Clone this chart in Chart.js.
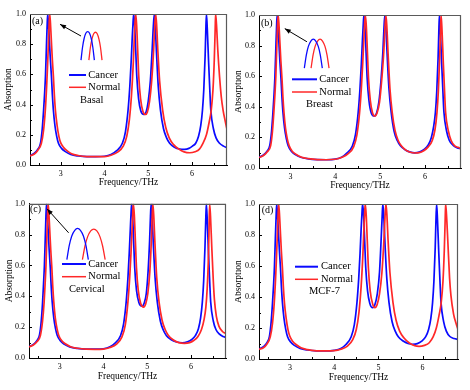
<!DOCTYPE html>
<html>
<head>
<meta charset="utf-8">
<script src="https://cdn.jsdelivr.net/npm/chart.js@4.4.0/dist/chart.umd.min.js"></script>
<style>
body{margin:0;background:#fff;}
#wrap{position:relative;width:470px;height:390px;overflow:hidden;}
.panel{position:absolute;width:235px;height:195px;}
</style>
</head>
<body>
<div id="wrap">
<div class="panel" style="left:0;top:0"><canvas id="ca" width="235" height="195"></canvas></div>
<div class="panel" style="left:235px;top:0"><canvas id="cb" width="235" height="195"></canvas></div>
<div class="panel" style="left:0;top:195px"><canvas id="cc" width="235" height="195"></canvas></div>
<div class="panel" style="left:235px;top:195px"><canvas id="cd" width="235" height="195"></canvas></div>
</div>
<script>
// axis ticks
const xTicks=[3,4,5,6];
const yTicks=[0,0.2,0.4,0.6,0.8,1.0];
const seriesNames=["Cancer","Normal"];

// (a) Basal
const aCancerX=[2.30,2.40,2.48,2.54,2.58,2.61,2.635,2.655,2.675,2.69,
2.704,2.72,2.74,2.765,2.79,2.81,2.834,2.87,2.91,2.95,
3.02,3.10,3.23,3.40,3.60,3.80,4.00,4.15,4.28,4.41,
4.48,4.54,4.58,4.61,4.635,4.655,4.669,4.69,4.715,4.74,
4.78,4.83,4.90,4.95,5.00,5.05,5.09,5.118,5.141,5.16,
5.19,5.23,5.28,5.35,5.42,5.49,5.60,5.72,5.83,5.93,
6.01,6.085,6.15,6.20,6.24,6.27,6.30,6.315,6.33,6.35,
6.38,6.41,6.43,6.49,6.55,6.63,6.72,6.80];
const aCancerY=[0.062,0.078,0.105,0.144,0.24,0.36,0.48,0.60,0.78,0.91,
1.0,0.95,0.84,0.70,0.585,0.47,0.364,0.26,0.19,0.144,
0.11,0.09,0.07,0.06,0.055,0.055,0.058,0.07,0.095,0.144,
0.22,0.364,0.52,0.68,0.84,0.95,1.0,0.93,0.76,0.585,
0.44,0.36,0.335,0.35,0.42,0.56,0.76,0.92,1.0,0.93,
0.74,0.52,0.364,0.24,0.18,0.144,0.118,0.106,0.104,0.11,
0.125,0.144,0.19,0.26,0.364,0.50,0.72,0.88,1.0,0.90,
0.68,0.48,0.364,0.24,0.18,0.144,0.125,0.115];
const aNormalX=[2.30,2.40,2.48,2.56,2.61,2.65,2.68,2.70,2.72,2.735,
2.75,2.765,2.785,2.81,2.835,2.855,2.88,2.92,2.96,3.00,
3.07,3.15,3.25,3.40,3.60,3.80,4.00,4.15,4.30,4.43,
4.51,4.57,4.62,4.66,4.685,4.70,4.714,4.735,4.76,4.785,
4.825,4.88,4.94,4.98,5.03,5.08,5.12,5.15,5.17,5.19,
5.22,5.26,5.33,5.40,5.48,5.58,5.70,5.82,5.95,6.07,
6.17,6.25,6.33,6.39,6.44,6.48,6.51,6.53,6.54,6.56,
6.59,6.63,6.67,6.71,6.76,6.80];
const aNormalY=[0.060,0.073,0.098,0.144,0.23,0.364,0.52,0.65,0.80,0.92,
1.0,0.95,0.84,0.70,0.585,0.47,0.364,0.26,0.19,0.148,
0.115,0.094,0.075,0.063,0.056,0.055,0.056,0.065,0.085,0.125,
0.19,0.30,0.47,0.68,0.86,0.95,1.0,0.93,0.76,0.585,
0.44,0.355,0.335,0.35,0.42,0.56,0.74,0.92,1.0,0.94,
0.76,0.56,0.364,0.25,0.18,0.135,0.105,0.087,0.081,0.088,
0.105,0.144,0.20,0.28,0.364,0.50,0.70,0.90,1.0,0.93,
0.76,0.585,0.45,0.364,0.29,0.235];

// (b) Breast
const bCancerX=[2.30,2.40,2.48,2.54,2.58,2.61,2.635,2.655,2.675,2.69,
2.704,2.72,2.74,2.765,2.79,2.81,2.834,2.87,2.91,2.95,
3.02,3.10,3.23,3.40,3.60,3.80,4.00,4.15,4.25,4.38,
4.45,4.51,4.55,4.58,4.605,4.625,4.637,4.66,4.685,4.71,
4.75,4.80,4.867,4.92,4.97,5.02,5.06,5.085,5.104,5.125,
5.155,5.195,5.245,5.31,5.38,5.45,5.56,5.67,5.77,5.87,
5.97,6.07,6.14,6.19,6.23,6.26,6.29,6.305,6.319,6.34,
6.37,6.40,6.42,6.48,6.54,6.62,6.71,6.80];
const bCancerY=[0.07,0.085,0.11,0.148,0.24,0.36,0.48,0.60,0.78,0.91,
1.0,0.95,0.84,0.70,0.585,0.47,0.364,0.26,0.19,0.145,
0.11,0.09,0.07,0.06,0.055,0.054,0.058,0.072,0.095,0.144,
0.22,0.364,0.52,0.68,0.84,0.95,1.0,0.93,0.76,0.585,
0.44,0.36,0.34,0.36,0.43,0.58,0.76,0.92,1.0,0.93,
0.74,0.52,0.364,0.24,0.18,0.145,0.118,0.104,0.099,0.104,
0.12,0.15,0.20,0.27,0.364,0.50,0.72,0.88,1.0,0.90,
0.68,0.48,0.364,0.24,0.18,0.15,0.133,0.125];
const bNormalX=[2.30,2.40,2.48,2.56,2.60,2.63,2.655,2.675,2.695,2.71,
2.726,2.742,2.762,2.787,2.812,2.832,2.856,2.89,2.93,2.97,
3.04,3.12,3.25,3.40,3.60,3.80,4.00,4.15,4.28,4.41,
4.48,4.54,4.58,4.61,4.635,4.655,4.667,4.69,4.715,4.74,
4.78,4.83,4.88,4.93,4.985,5.035,5.08,5.107,5.126,5.147,
5.177,5.217,5.267,5.33,5.40,5.47,5.57,5.67,5.77,5.87,
5.97,6.07,6.16,6.22,6.265,6.295,6.325,6.342,6.356,6.377,
6.407,6.437,6.457,6.52,6.58,6.66,6.73,6.80];
const bNormalY=[0.068,0.082,0.105,0.146,0.24,0.36,0.48,0.60,0.78,0.91,
1.0,0.95,0.84,0.70,0.585,0.47,0.364,0.26,0.19,0.146,
0.11,0.09,0.07,0.061,0.055,0.054,0.057,0.07,0.092,0.14,
0.215,0.36,0.52,0.68,0.84,0.95,1.0,0.93,0.76,0.585,
0.44,0.36,0.34,0.36,0.43,0.58,0.76,0.92,1.0,0.93,
0.74,0.52,0.364,0.245,0.18,0.145,0.117,0.103,0.098,0.10,
0.113,0.138,0.18,0.25,0.364,0.50,0.72,0.88,1.0,0.90,
0.68,0.48,0.364,0.24,0.18,0.145,0.135,0.127];

// (c) Cervical
const cCancerX=[2.30,2.40,2.48,2.54,2.58,2.61,2.632,2.652,2.672,2.686,
2.70,2.716,2.736,2.761,2.786,2.806,2.83,2.866,2.906,2.946,
3.02,3.10,3.23,3.40,3.60,3.80,4.00,4.15,4.26,4.39,
4.46,4.52,4.56,4.59,4.615,4.633,4.645,4.666,4.69,4.715,
4.755,4.81,4.88,4.93,4.98,5.02,5.055,5.075,5.09,5.11,
5.14,5.18,5.23,5.30,5.37,5.44,5.55,5.67,5.80,5.92,
6.02,6.10,6.17,6.22,6.26,6.29,6.32,6.336,6.351,6.371,
6.40,6.43,6.45,6.51,6.57,6.65,6.73,6.80];
const cCancerY=[0.074,0.088,0.112,0.15,0.24,0.36,0.48,0.60,0.78,0.91,
1.0,0.95,0.84,0.70,0.585,0.47,0.364,0.26,0.19,0.146,
0.11,0.09,0.072,0.062,0.057,0.057,0.06,0.073,0.095,0.144,
0.22,0.364,0.52,0.68,0.84,0.95,1.0,0.93,0.76,0.585,
0.44,0.36,0.336,0.355,0.42,0.56,0.76,0.92,1.0,0.93,
0.74,0.52,0.364,0.24,0.18,0.145,0.118,0.104,0.099,0.105,
0.12,0.145,0.19,0.26,0.364,0.50,0.72,0.88,1.0,0.90,
0.68,0.48,0.364,0.24,0.185,0.155,0.14,0.134];
const cNormalX=[2.30,2.40,2.48,2.56,2.61,2.645,2.668,2.688,2.708,2.722,
2.736,2.752,2.772,2.797,2.822,2.842,2.866,2.90,2.94,2.98,
3.05,3.13,3.25,3.40,3.60,3.80,4.00,4.15,4.30,4.42,
4.50,4.56,4.60,4.63,4.655,4.671,4.683,4.705,4.73,4.755,
4.795,4.85,4.917,4.965,5.015,5.06,5.095,5.114,5.128,5.148,
5.178,5.218,5.27,5.34,5.41,5.48,5.59,5.72,5.85,5.97,
6.07,6.16,6.24,6.30,6.34,6.37,6.395,6.41,6.426,6.446,
6.475,6.51,6.535,6.58,6.64,6.72,6.80];
const cNormalY=[0.072,0.084,0.105,0.146,0.24,0.36,0.48,0.60,0.78,0.91,
1.0,0.95,0.84,0.70,0.585,0.47,0.364,0.26,0.19,0.146,
0.112,0.092,0.073,0.063,0.057,0.056,0.058,0.068,0.09,0.135,
0.215,0.364,0.52,0.68,0.84,0.95,1.0,0.93,0.76,0.585,
0.44,0.355,0.33,0.35,0.42,0.56,0.76,0.92,1.0,0.93,
0.74,0.52,0.364,0.245,0.185,0.148,0.118,0.10,0.095,0.10,
0.115,0.14,0.185,0.25,0.33,0.45,0.62,0.80,1.0,0.92,
0.72,0.50,0.38,0.27,0.205,0.172,0.157];

// (d) MCF-7
const dCancerX=[2.30,2.40,2.48,2.535,2.575,2.605,2.63,2.65,2.67,2.686,
2.70,2.716,2.736,2.761,2.786,2.806,2.83,2.866,2.906,2.946,
3.02,3.10,3.23,3.40,3.60,3.80,4.00,4.15,4.26,4.385,
4.455,4.515,4.555,4.585,4.61,4.63,4.643,4.665,4.69,4.715,
4.755,4.805,4.87,4.92,4.975,5.025,5.06,5.085,5.10,5.12,
5.15,5.19,5.24,5.31,5.38,5.45,5.56,5.67,5.77,5.88,
5.98,6.07,6.135,6.185,6.225,6.255,6.285,6.30,6.316,6.336,
6.366,6.396,6.416,6.476,6.536,6.616,6.71,6.80];
const dCancerY=[0.065,0.08,0.105,0.144,0.24,0.36,0.48,0.60,0.78,0.91,
1.0,0.95,0.84,0.70,0.585,0.47,0.364,0.26,0.19,0.144,
0.108,0.088,0.068,0.058,0.053,0.052,0.056,0.068,0.092,0.144,
0.22,0.364,0.52,0.68,0.84,0.95,1.0,0.93,0.76,0.585,
0.44,0.36,0.331,0.35,0.42,0.56,0.76,0.92,1.0,0.93,
0.74,0.52,0.364,0.24,0.18,0.144,0.116,0.10,0.095,0.099,
0.115,0.144,0.19,0.26,0.364,0.50,0.72,0.88,1.0,0.90,
0.68,0.48,0.364,0.24,0.18,0.145,0.132,0.126];
const dNormalX=[2.30,2.40,2.48,2.555,2.605,2.645,2.675,2.695,2.715,2.73,
2.744,2.76,2.78,2.805,2.83,2.85,2.875,2.915,2.955,2.995,
3.065,3.145,3.25,3.40,3.60,3.80,4.00,4.15,4.30,4.42,
4.50,4.56,4.61,4.65,4.675,4.69,4.703,4.724,4.749,4.774,
4.814,4.87,4.92,4.97,5.025,5.08,5.12,5.15,5.17,5.19,
5.22,5.26,5.33,5.40,5.48,5.58,5.70,5.82,5.92,6.04,
6.15,6.24,6.31,6.37,6.42,6.46,6.49,6.51,6.52,6.54,
6.57,6.61,6.64,6.70,6.75,6.80];
const dNormalY=[0.063,0.073,0.097,0.144,0.23,0.364,0.52,0.65,0.80,0.92,
1.0,0.95,0.84,0.70,0.585,0.47,0.364,0.26,0.19,0.148,
0.113,0.092,0.072,0.06,0.053,0.052,0.054,0.063,0.083,0.125,
0.19,0.30,0.47,0.68,0.86,0.95,1.0,0.93,0.76,0.585,
0.44,0.355,0.331,0.35,0.42,0.56,0.74,0.92,1.0,0.94,
0.76,0.56,0.364,0.25,0.18,0.135,0.103,0.086,0.082,0.088,
0.105,0.144,0.20,0.28,0.364,0.50,0.70,0.90,1.0,0.93,
0.76,0.52,0.41,0.29,0.235,0.19];

// zoomed peak sketches and arrows (data coordinates)
const aInsetCancerX=[3.465,3.50,3.535,3.575,3.618,3.66,3.70,3.735,3.77];
const aInsetCancerY=[0.695,0.78,0.836,0.872,0.883,0.872,0.836,0.78,0.695];
const aInsetNormalX=[3.645,3.68,3.715,3.755,3.795,3.835,3.875,3.91,3.945];
const aInsetNormalY=[0.695,0.78,0.834,0.869,0.879,0.869,0.834,0.78,0.695];
const aArrowX=[2.985,3.465], aArrowY=[0.932,0.854];

const bInsetCancerX=[3.31,3.355,3.40,3.455,3.51,3.565,3.62,3.665,3.71];
const bInsetCancerY=[0.653,0.74,0.795,0.83,0.842,0.83,0.795,0.74,0.653];
const bInsetNormalX=[3.46,3.505,3.55,3.605,3.66,3.715,3.77,3.815,3.86];
const bInsetNormalY=[0.653,0.74,0.795,0.83,0.842,0.83,0.795,0.74,0.653];
const bArrowX=[2.874,3.368], bArrowY=[0.911,0.825];

const cInsetCancerX=[3.165,3.22,3.275,3.345,3.41,3.475,3.545,3.60,3.655];
const cInsetCancerY=[0.638,0.73,0.79,0.828,0.84,0.828,0.79,0.73,0.638];
const cInsetNormalX=[3.52,3.58,3.64,3.71,3.78,3.85,3.92,3.98,4.04];
const cInsetNormalY=[0.638,0.728,0.787,0.824,0.836,0.824,0.787,0.728,0.638];
const cArrowX=[2.714,3.205], cArrowY=[0.967,0.812];

const FONT="'Liberation Serif', 'DejaVu Serif', serif";
const BLUE="#0a0aff", RED="#ff2828";

const pts=(xs,ys)=>xs.map((x,i)=>({x:x,y:ys[i]}));

const panels=[
{canvas:"ca",tag:"(a)",name:"Basal",cancer:[aCancerX,aCancerY],normal:[aNormalX,aNormalY],
 inset:{cancer:[aInsetCancerX,aInsetCancerY],normal:[aInsetNormalX,aInsetNormalY],arrow:[aArrowX,aArrowY]},
 L:30,T:14,R:8,XH:30,ytp:2.6,xtp:6.8,
 leg:{x1:69,x2:86,y1:75,y2:87.3,tx:88.3,nx:80,ny:100},tagPos:[32,21.5]},
{canvas:"cb",tag:"(b)",name:"Breast",cancer:[bCancerX,bCancerY],normal:[bNormalX,bNormalY],
 inset:{cancer:[bInsetCancerX,bInsetCancerY],normal:[bInsetNormalX,bInsetNormalY],arrow:[bArrowX,bArrowY]},
 L:24,T:15,R:9,XH:27,ytp:-2.7,xtp:4.3,
 leg:{x1:57,x2:82,y1:79.3,y2:92,tx:84.3,nx:71,ny:104.3},tagPos:[26,23]},
{canvas:"cc",tag:"(c)",name:"Cervical",cancer:[cCancerX,cCancerY],normal:[cNormalX,cNormalY],
 inset:{cancer:[cInsetCancerX,cInsetCancerY],normal:[cInsetNormalX,cInsetNormalY],arrow:[cArrowX,cArrowY]},
 L:29,T:7,R:9,XH:32,ytp:3.3,xtp:7.6,
 leg:{x1:62,x2:86,y1:69,y2:81.7,tx:88.3,nx:69,ny:94.3},tagPos:[30,14.5]},
{canvas:"cd",tag:"(d)",name:"MCF-7",cancer:[dCancerX,dCancerY],normal:[dNormalX,dNormalY],
 inset:null,
 L:24,T:9,R:12,XH:31,ytp:-2.7,xtp:6.6,
 leg:{x1:60,x2:83,y1:71.7,y2:84.3,tx:86,nx:74,ny:96.7},tagPos:[26.7,15.7]}
];

function makeDecor(p){
 return {
  id:"decor",
  afterDatasetsDraw(chart){
   if(!p.inset) return;
   const ctx=chart.ctx;
   const meta=chart.getDatasetMeta(4);
   const h=meta.data[0], t=meta.data[1];
   const ang=Math.atan2(h.y-t.y,h.x-t.x);
   const len=6, hw=2.3;
   const bx=h.x-len*Math.cos(ang), by=h.y-len*Math.sin(ang);
   ctx.save();
   ctx.fillStyle="#000";
   ctx.beginPath();
   ctx.moveTo(h.x,h.y);
   ctx.lineTo(bx-hw*Math.sin(ang),by+hw*Math.cos(ang));
   ctx.lineTo(bx+hw*Math.sin(ang),by-hw*Math.cos(ang));
   ctx.closePath();
   ctx.fill();
   ctx.restore();
  },
  afterDraw(chart){
   const ctx=chart.ctx, a=chart.chartArea, xs=chart.scales.x, ys=chart.scales.y;
   ctx.save();
   // top and right frame
   ctx.strokeStyle="#5a5a5a"; ctx.lineWidth=1.2;
   ctx.beginPath();
   ctx.moveTo(a.left,a.top+0.5); ctx.lineTo(a.right-0.5,a.top+0.5); ctx.lineTo(a.right-0.5,a.bottom);
   ctx.stroke();
   // inward ticks
   ctx.strokeStyle="#000"; ctx.lineWidth=1;
   ctx.beginPath();
   for(let v=2.5; v<=6.5001; v+=0.5){
    const px=Math.round(xs.getPixelForValue(v))+0.5;
    const l=Number.isInteger(v)?3:2;
    ctx.moveTo(px,a.bottom); ctx.lineTo(px,a.bottom-l);
   }
   for(let k=1;k<=9;k++){
    const v=k/10;
    const py=Math.round(ys.getPixelForValue(v))+0.5;
    const l=(k%2===0)?3:2;
    ctx.moveTo(a.left,py); ctx.lineTo(a.left+l,py);
   }
   ctx.stroke();
   // legend
   const g=p.leg;
   ctx.lineWidth=2;
   ctx.strokeStyle=BLUE;
   ctx.beginPath(); ctx.moveTo(g.x1,g.y1); ctx.lineTo(g.x2,g.y1); ctx.stroke();
   ctx.strokeStyle=RED;
   ctx.lineWidth=1.5;
   ctx.beginPath(); ctx.moveTo(g.x1,g.y2); ctx.lineTo(g.x2,g.y2); ctx.stroke();
   ctx.fillStyle="#000";
   ctx.font="10.5px "+FONT;
   ctx.textBaseline="middle"; ctx.textAlign="left";
   ctx.fillText(seriesNames[0],g.tx,g.y1);
   ctx.fillText(seriesNames[1],g.tx,g.y2);
   ctx.fillText(p.name,g.nx,g.ny);
   ctx.font="10px "+FONT;
   ctx.fillText(p.tag,p.tagPos[0],p.tagPos[1]);
   ctx.restore();
  }
 };
}

panels.forEach(p=>{
 const base={pointRadius:0,borderWidth:1.7,fill:false,cubicInterpolationMode:"monotone"};
 const datasets=[
  Object.assign({label:seriesNames[1],data:pts(p.normal[0],p.normal[1]),borderColor:RED,order:1},base),
  Object.assign({label:seriesNames[0],data:pts(p.cancer[0],p.cancer[1]),borderColor:BLUE,order:2},base)
 ];
 if(p.inset){
  datasets.push(Object.assign({label:"i1",data:pts(p.inset.cancer[0],p.inset.cancer[1]),borderColor:BLUE,order:0},base,{borderWidth:1.3}));
  datasets.push(Object.assign({label:"i2",data:pts(p.inset.normal[0],p.inset.normal[1]),borderColor:RED,order:0},base,{borderWidth:1.3}));
  datasets.push(Object.assign({label:"arrow",data:pts(p.inset.arrow[0],p.inset.arrow[1]),borderColor:"#000",order:0},base,{borderWidth:1,cubicInterpolationMode:"default",tension:0}));
 }
 new Chart(document.getElementById(p.canvas),{
  type:"line",
  data:{datasets:datasets},
  options:{
   responsive:false,
   animation:false,
   devicePixelRatio:1,
   layout:{padding:{left:0,top:p.T,right:p.R,bottom:0}},
   plugins:{legend:{display:false},tooltip:{enabled:false}},
   scales:{
    x:{
     type:"linear",min:2.3,max:6.8,
     afterFit:s=>{s.height=p.XH;},
     afterBuildTicks:s=>{s.ticks=xTicks.map(v=>({value:v}));},
     ticks:{font:{family:FONT,size:8},color:"#000",padding:4,maxRotation:0,autoSkip:false,callback:v=>String(v)},
     grid:{display:false,drawTicks:false},
     border:{display:true,color:"#000",width:1},
     title:{display:true,text:"Frequency/THz",color:"#000",font:{family:FONT,size:9.5},padding:{top:0,bottom:p.xtp}}
    },
    y:{
     type:"linear",min:0,max:1,
     afterFit:s=>{s.width=p.L;},
     afterBuildTicks:s=>{s.ticks=yTicks.map(v=>({value:v}));},
     ticks:{font:{family:FONT,size:8},color:"#000",padding:4,autoSkip:false,callback:v=>Number(v).toFixed(1)},
     grid:{display:false,drawTicks:false},
     border:{display:true,color:"#000",width:1},
     title:{display:true,text:"Absorption",color:"#000",font:{family:FONT,size:9.5},padding:{top:p.ytp,bottom:0}}
    }
   }
  },
  plugins:[makeDecor(p)]
 });
});
</script>
</body>
</html>
